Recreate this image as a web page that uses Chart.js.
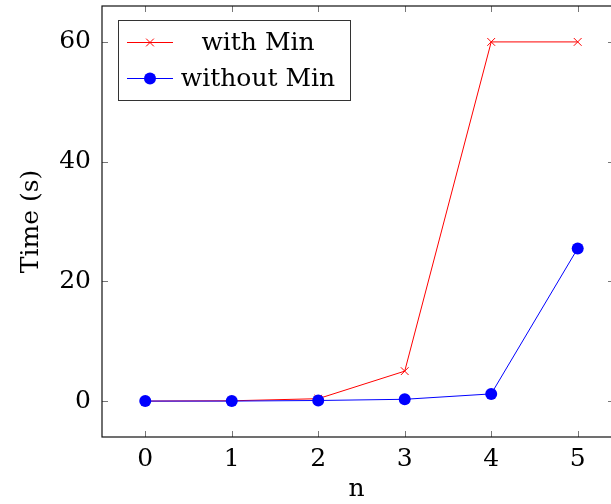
<!DOCTYPE html>
<html>
<head>
<meta charset="utf-8">
<script src="https://cdn.jsdelivr.net/npm/chart.js@4"></script>
<style>
  html, body { margin: 0; padding: 0; background: #fff; overflow: hidden; }
</style>
</head>
<body>
<canvas id="chart" width="611" height="504"></canvas>
<script>
// 데이터
const nValues = [0, 1, 2, 3, 4, 5];
const withMin = [0, 0.05, 0.4, 5, 60, 60];
const withoutMin = [0, 0, 0.1, 0.3, 1.2, 25.5];
const xTicks = [0, 1, 2, 3, 4, 5];
const yTicks = [0, 20, 40, 60];

// 축 범위 (오른쪽 축선은 그림 밖으로 조금 잘려 있음)
const X_MIN = -0.5;
const X_VISIBLE_MAX = 5.385;
const X_AXIS_END = 5.42;
const Y_MIN = -6;
const Y_MAX = 66;

const FONT = 'DejaVu Serif';

function toPoints(ys) {
    return nValues.map((n, i) => ({ x: n, y: ys[i] }));
}

// 프레임 + 안쪽 눈금
const framePlugin = {
    id: 'frame',
    afterDraw(chart) {
        const { ctx, chartArea: a, scales } = chart;
        const len = 6;
        const right = scales.x.getPixelForValue(X_AXIS_END);
        ctx.save();
        ctx.strokeStyle = '#777';
        ctx.lineWidth = 1;
        scales.x.ticks.forEach(t => {
            const px = Math.round(scales.x.getPixelForValue(t.value)) + 0.5;
            ctx.beginPath();
            ctx.moveTo(px, a.bottom); ctx.lineTo(px, a.bottom - len);
            ctx.moveTo(px, a.top); ctx.lineTo(px, a.top + len);
            ctx.stroke();
        });
        scales.y.ticks.forEach(t => {
            const py = Math.round(scales.y.getPixelForValue(t.value)) + 0.5;
            ctx.beginPath();
            ctx.moveTo(a.left, py); ctx.lineTo(a.left + len, py);
            ctx.moveTo(right, py); ctx.lineTo(right - len, py);
            ctx.stroke();
        });
        ctx.strokeStyle = '#111';
        ctx.lineWidth = 1.2;
        ctx.strokeRect(a.left, a.top, right - a.left, a.bottom - a.top);
        ctx.restore();
    }
};

// pgfplots 스타일 범례
const legendBoxPlugin = {
    id: 'legendBox',
    afterDraw(chart) {
        const { ctx } = chart;
        const box = { x: 118.5, y: 20.5, w: 232, h: 80 };
        const rows = [42, 78];
        ctx.save();
        ctx.fillStyle = '#fff';
        ctx.fillRect(box.x, box.y, box.w, box.h);
        ctx.strokeStyle = '#333';
        ctx.lineWidth = 1;
        ctx.strokeRect(box.x, box.y, box.w, box.h);
        chart.data.datasets.forEach((ds, i) => {
            const y = rows[i] + 0.5;
            ctx.strokeStyle = ds.borderColor;
            ctx.fillStyle = ds.backgroundColor;
            ctx.lineWidth = 1;
            ctx.beginPath();
            ctx.moveTo(127, y); ctx.lineTo(173, y);
            ctx.stroke();
            Chart.helpers.drawPoint(ctx, {
                pointStyle: ds.pointStyle,
                radius: ds.pointRadius,
                borderWidth: ds.pointBorderWidth
            }, 150, y);
            ctx.fillStyle = '#000';
            ctx.font = '25px "' + FONT + '"';
            ctx.textAlign = 'center';
            ctx.textBaseline = 'middle';
            ctx.fillText(ds.label, 258, rows[i] + 1);
        });
        ctx.restore();
    }
};

new Chart(document.getElementById('chart'), {
    type: 'line',
    data: {
        datasets: [{
            label: 'with Min',
            data: toPoints(withMin),
            borderColor: '#ff0000',
            backgroundColor: '#ff0000',
            borderWidth: 1,
            pointStyle: 'crossRot',
            pointRadius: 5.5,
            pointBorderWidth: 1,
            tension: 0,
            order: 2
        }, {
            label: 'without Min',
            data: toPoints(withoutMin),
            borderColor: '#0000ff',
            backgroundColor: '#0000ff',
            borderWidth: 1,
            pointStyle: 'circle',
            pointRadius: 6,
            pointBorderWidth: 0,
            tension: 0,
            order: 1
        }]
    },
    options: {
        responsive: false,
        animation: false,
        layout: { autoPadding: false, padding: { top: 6, right: 0, left: 0, bottom: 0 } },
        plugins: {
            legend: { display: false },
            tooltip: { enabled: false }
        },
        scales: {
            x: {
                type: 'linear',
                min: X_MIN,
                max: X_VISIBLE_MAX,
                afterBuildTicks: s => { s.ticks = xTicks.map(v => ({ value: v })); },
                afterFit: s => { s.height = 67; s.paddingLeft = 0; s.paddingRight = 0; },
                grid: { display: false, drawTicks: false },
                border: { display: false },
                ticks: {
                    color: '#000',
                    padding: 7,
                    maxRotation: 0,
                    font: { family: FONT, size: 25 }
                },
                title: {
                    display: true,
                    text: 'n',
                    color: '#000',
                    padding: { top: 0, bottom: 0 },
                    font: { family: FONT, size: 25 }
                }
            },
            y: {
                min: Y_MIN,
                max: Y_MAX,
                afterBuildTicks: s => { s.ticks = yTicks.map(v => ({ value: v })); },
                afterFit: s => { s.width = 102; s.paddingTop = 0; s.paddingBottom = 0; },
                grid: { display: false, drawTicks: false },
                border: { display: false },
                ticks: {
                    color: '#000',
                    padding: 11,
                    font: { family: FONT, size: 25 }
                },
                title: {
                    display: true,
                    text: 'Time (s)',
                    color: '#000',
                    padding: { top: 16, bottom: 0 },
                    font: { family: FONT, size: 25 }
                }
            }
        }
    },
    plugins: [framePlugin, legendBoxPlugin]
});
</script>
</body>
</html>
